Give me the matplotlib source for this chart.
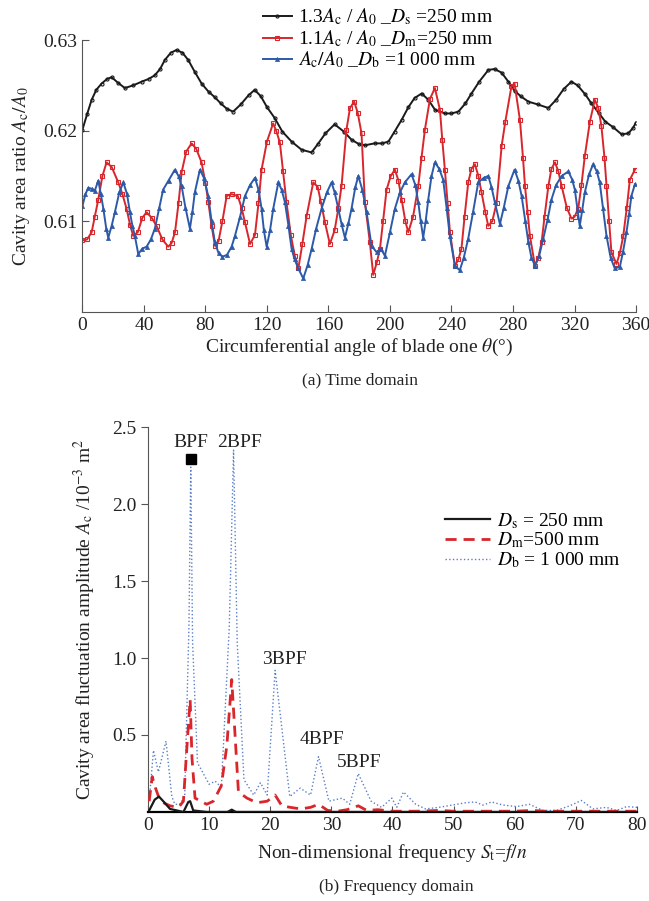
import numpy as np
import matplotlib
matplotlib.use("Agg")
import matplotlib.pyplot as plt

plt.rcParams['font.family'] = ['Liberation Serif', 'DejaVu Serif']
plt.rcParams['mathtext.fontset'] = 'stix'

# ---- (a) time domain: values ----
theta_s = [0, 3, 6, 9, 12.5, 16, 19, 23, 27.6, 33, 38.5, 43, 47, 50.5, 53.6, 57.5, 61.2, 65, 68.8,
           73, 77.5, 82, 86, 90, 94, 98, 103, 108, 112, 116, 120, 125, 130, 136, 142.5, 149, 153,
           158, 164, 170, 175, 180, 184, 190, 195, 199, 203, 207.6, 212, 216, 220.6, 225, 229.3,
           235.8, 240, 244.5, 249, 253, 258, 264, 268, 272.6, 277, 281, 285, 290, 296, 303, 308,
           313, 318, 322, 327, 331, 336, 340, 345, 350.6, 355, 358, 360]
ratio_s = [0.6201, 0.6218, 0.6234, 0.6245, 0.6252, 0.6257, 0.6259, 0.6253, 0.6247, 0.6250, 0.6254,
           0.6257, 0.6261, 0.6268, 0.6278, 0.6286, 0.6289, 0.6286, 0.6278, 0.6265, 0.6252, 0.6243,
           0.6237, 0.6230, 0.6224, 0.6221, 0.6229, 0.6239, 0.6245, 0.6238, 0.6226, 0.6214, 0.6199,
           0.6188, 0.6179, 0.6176, 0.6185, 0.6197, 0.6207, 0.6199, 0.6190, 0.6185, 0.6184, 0.6186,
           0.6186, 0.6188, 0.6199, 0.6212, 0.6226, 0.6236, 0.6241, 0.6234, 0.6223, 0.6219, 0.6219,
           0.6221, 0.6230, 0.6241, 0.6254, 0.6267, 0.6268, 0.6264, 0.6254, 0.6244, 0.6238, 0.6232,
           0.6229, 0.6225, 0.6234, 0.6246, 0.6254, 0.6250, 0.6240, 0.6230, 0.6219, 0.6210, 0.6204,
           0.6196, 0.6197, 0.6203, 0.6209]

theta_m = [0, 3, 6, 8, 10.3, 13, 15.7, 19, 23.3, 26, 28.7, 31, 33, 36, 39, 41.7, 45, 48.2, 52, 55.8,
           58, 60.2, 62.5, 64.5, 67.5, 71, 74, 77.5, 80, 81.9, 84, 86.2, 88.5, 91, 93.8, 97, 101,
           103.5, 105.7, 109, 112.2, 114.5, 116.5, 120, 124, 126, 128.4, 130.5, 132.7, 135.5, 138.1,
           140.4, 143, 145.8, 150.1, 153, 155, 157.7, 160.9, 164, 166.5, 168.5, 171.7, 174, 176.7,
           179, 181.5, 183.7, 186.9, 189.1, 191.5, 193.5, 195.5, 197.8, 200.5, 203.2, 205.5, 207.6,
           210, 211.9, 215, 218.4, 220.5, 222.7, 226, 229.2, 232.5, 234, 235.7, 237.5, 239, 242.2,
           244.5, 246.5, 248.5, 250.9, 253, 255.2, 257.5, 259.5, 262, 263.9, 266.5, 269.3, 272.6,
           275, 279, 281, 284.5, 286.5, 287.8, 289.5, 291, 294.3, 296.5, 298.6, 300.5, 303, 305,
           307.3, 309.5, 311.6, 315, 318, 320, 322.4, 324.5, 326.7, 330, 333.2, 335.5, 337.5, 339.5,
           340.8, 342.5, 344, 347.3, 349.5, 351.7, 354, 356, 359.3]
ratio_m = [0.6079, 0.6080, 0.6088, 0.6105, 0.6124, 0.6150, 0.6165, 0.6160, 0.6143, 0.6130, 0.6114,
           0.6096, 0.6084, 0.6088, 0.6104, 0.6110, 0.6104, 0.6095, 0.6080, 0.6072, 0.6076, 0.6088,
           0.6120, 0.6154, 0.6177, 0.6186, 0.6180, 0.6165, 0.6142, 0.6121, 0.6095, 0.6073, 0.6078,
           0.6100, 0.6128, 0.6130, 0.6128, 0.6115, 0.6099, 0.6075, 0.6085, 0.6120, 0.6157, 0.6188,
           0.6208, 0.6200, 0.6187, 0.6155, 0.6121, 0.6085, 0.6062, 0.6048, 0.6075, 0.6106, 0.6143,
           0.6138, 0.6122, 0.6099, 0.6075, 0.6090, 0.6115, 0.6139, 0.6201, 0.6225, 0.6232, 0.6220,
           0.6197, 0.6121, 0.6077, 0.6041, 0.6055, 0.6070, 0.6100, 0.6135, 0.6150, 0.6157, 0.6145,
           0.6124, 0.6100, 0.6088, 0.6105, 0.6139, 0.6170, 0.6201, 0.6235, 0.6247, 0.6223, 0.6190,
           0.6157, 0.6120, 0.6088, 0.6051, 0.6058, 0.6070, 0.6105, 0.6143, 0.6158, 0.6163, 0.6150,
           0.6132, 0.6110, 0.6095, 0.6100, 0.6120, 0.6183, 0.6210, 0.6249, 0.6252, 0.6212, 0.6170,
           0.6139, 0.6110, 0.6084, 0.6051, 0.6060, 0.6077, 0.6105, 0.6139, 0.6158, 0.6165, 0.6155,
           0.6139, 0.6115, 0.6103, 0.6105, 0.6114, 0.6140, 0.6172, 0.6210, 0.6234, 0.6225, 0.6205,
           0.6170, 0.6139, 0.6100, 0.6066, 0.6053, 0.6065, 0.6084, 0.6115, 0.6146, 0.6157]

theta_b = [0, 2, 3.8, 6, 8.1, 10.3, 12, 13.6, 15.5, 16.8, 19, 21.1, 24, 26.6, 29, 30.9, 32.5, 34.1,
           36.3, 39, 41.7, 44.5, 47.1, 50, 52.5, 56, 60.1, 62.5, 64.5, 67, 69.9, 71.5, 73.1, 76.4,
           79, 81.8, 84, 86.1, 88.5, 91, 94, 97, 99.2, 102.5, 105.7, 109, 112.2, 114.5, 116.5, 118,
           119.8, 122, 124.1, 127.4, 129.5, 131.7, 134, 136, 138, 140.4, 143.6, 146.5, 149.1, 152,
           155.5, 159, 162, 164, 166.4, 168.5, 170.7, 173, 175, 177.5, 179.4, 182, 184.8, 188, 191.3,
           194, 196.7, 200, 203.2, 206.5, 209.7, 214, 216.5, 218.4, 220, 221.6, 223.2, 224.9, 227,
           229.2, 232, 234.6, 236.8, 238.9, 242.2, 245.4, 248, 250.9, 254, 257.4, 261, 263.9, 266,
           268.2, 271.5, 274, 277, 281, 283.5, 285.6, 288, 290, 292, 294.3, 297, 299.7, 302.5, 305,
           308, 311.6, 316, 318.5, 320.2, 322, 323.4, 325, 326.7, 329.5, 332.1, 334.5, 336.4, 338.5,
           340.8, 343.5, 346.2, 349.5, 351.5, 353.8, 355.5, 357, 359.3]
ratio_b = [0.6117, 0.6130, 0.6137, 0.6136, 0.6134, 0.6145, 0.6130, 0.6114, 0.6092, 0.6082, 0.6095,
           0.6110, 0.6132, 0.6143, 0.6130, 0.6110, 0.6095, 0.6084, 0.6064, 0.6070, 0.6072, 0.6080,
           0.6092, 0.6115, 0.6135, 0.6145, 0.6157, 0.6150, 0.6139, 0.6115, 0.6092, 0.6110, 0.6132,
           0.6157, 0.6148, 0.6128, 0.6100, 0.6077, 0.6065, 0.6061, 0.6063, 0.6072, 0.6084, 0.6105,
           0.6128, 0.6140, 0.6148, 0.6135, 0.6114, 0.6090, 0.6072, 0.6090, 0.6114, 0.6143, 0.6135,
           0.6121, 0.6095, 0.6070, 0.6058, 0.6048, 0.6037, 0.6052, 0.6070, 0.6092, 0.6114, 0.6132,
           0.6143, 0.6132, 0.6114, 0.6097, 0.6082, 0.6098, 0.6114, 0.6138, 0.6150, 0.6135, 0.6110,
           0.6073, 0.6066, 0.6070, 0.6062, 0.6088, 0.6114, 0.6132, 0.6143, 0.6152, 0.6140, 0.6121,
           0.6100, 0.6082, 0.6100, 0.6124, 0.6150, 0.6165, 0.6158, 0.6146, 0.6115, 0.6084, 0.6051,
           0.6046, 0.6060, 0.6081, 0.6110, 0.6143, 0.6148, 0.6150, 0.6138, 0.6121, 0.6097, 0.6115,
           0.6139, 0.6157, 0.6145, 0.6128, 0.6100, 0.6077, 0.6060, 0.6051, 0.6062, 0.6081, 0.6102,
           0.6124, 0.6140, 0.6150, 0.6155, 0.6146, 0.6135, 0.6112, 0.6095, 0.6112, 0.6132, 0.6152,
           0.6163, 0.6155, 0.6143, 0.6115, 0.6084, 0.6060, 0.6048, 0.6050, 0.6066, 0.6088, 0.6108,
           0.6128, 0.6141]

# ---- (b) frequency domain ----
freq_s = [0.2, 1.1, 1.8, 2.5, 3.6, 4.7, 5.8, 6.6, 6.9, 7.4, 9.6, 13.0, 13.7, 14.4, 20, 30, 40, 50, 60, 70, 80]
amp_s = [0.01, 0.08, 0.10, 0.07, 0.02, 0.01, 0.0, 0.065, 0.07, 0.01, 0.0, 0.0, 0.015, 0.0, 0.0, 0.0, 0.0, 0.0, 0.0, 0.0, 0.0]

freq_m = [0.2, 0.7, 1.1, 2.0, 3.6, 5.0, 5.8, 6.3, 6.9, 7.2, 7.7, 9.6, 10.7, 12.0, 12.9, 13.7, 14.2,
          14.8, 16.2, 17.8, 19.5, 20.8, 21.9, 23.3, 25.0, 26.6, 27.9, 29.4, 31.0, 32.6, 34.4, 35.8,
          37.6, 39.9, 44, 47.6, 50, 55, 60, 62.9, 65, 70, 75, 80]
amp_m = [0.07, 0.23, 0.17, 0.07, 0.04, 0.03, 0.07, 0.38, 0.73, 0.35, 0.09, 0.05, 0.07, 0.17, 0.43,
         0.86, 0.53, 0.13, 0.09, 0.06, 0.07, 0.11, 0.04, 0.03, 0.02, 0.03, 0.05, 0.01, 0.005, 0.015,
         0.04, 0.01, 0.015, 0.005, 0.005, 0.01, 0.005, 0.005, 0.005, 0.01, 0.005, 0.005, 0.005, 0.005]

freq_b = [0.3, 0.9, 1.7, 2.95, 3.9, 4.4, 5.2, 6.0, 6.7, 7.0, 7.3, 8.1, 10.0, 11.0, 12.0, 13.3, 14.0,
          14.6, 15.7, 17.3, 18.4, 19.5, 20.8, 23.2, 24.9, 26.6, 27.9, 29.6, 30.7, 31.8, 33.0, 34.4,
          36.5, 38.2, 39.9, 40.7, 41.8, 43.8, 45.4, 47.6, 49.8, 52.0, 53.5, 54.8, 56.2, 58.1, 60.3,
          62.4, 64.6, 66.8, 69.0, 70.9, 72.8, 75.0, 76.7, 78.3, 80.0]
amp_b = [0.12, 0.40, 0.26, 0.46, 0.10, 0.05, 0.05, 0.10, 1.20, 2.24, 1.10, 0.32, 0.18, 0.20, 0.16,
         1.20, 2.35, 1.10, 0.21, 0.11, 0.19, 0.11, 0.92, 0.10, 0.155, 0.11, 0.36, 0.07, 0.08, 0.09,
         0.05, 0.25, 0.07, 0.03, 0.09, 0.03, 0.13, 0.05, 0.02, 0.03, 0.045, 0.06, 0.065, 0.045, 0.065,
         0.045, 0.035, 0.05, 0.01, 0.01, 0.04, 0.075, 0.02, 0.03, 0.01, 0.035, 0.03]

harm_labels = ['BPF', '2BPF', '3BPF', '4BPF', '5BPF']
harm_x = [7.0, 15.0, 22.3, 28.5, 34.5]
harm_y = [2.40, 2.40, 0.99, 0.47, 0.32]

black = '#1a1a1a'
red = '#d8262c'
blue = '#2d5aa8'
txt = '#222222'

fig = plt.figure(figsize=(6.49, 9.01), dpi=100)
fs = 14

# ---------- (a) ----------
ax1 = fig.add_axes([0.127, 0.6537, 0.853, 0.3019])
ax1.plot(theta_s, ratio_s, color=black, lw=1.4, marker='o', ms=2.2, mfc='none', mew=0.8,
         label=r'1.3$A_{\rm c}$ / $A_0$ _$D_{\rm s}$ =250 mm')
ax1.plot(theta_m, ratio_m, color=red, lw=1.4, marker='s', ms=2.6, mfc='none', mew=0.8,
         label=r'1.1$A_{\rm c}$ / $A_0$ _$D_{\rm m}$=250 mm')
ax1.plot(theta_b, ratio_b, color=blue, lw=1.4, marker='^', ms=3.0, mew=0.5,
         label=r'$A_{\rm c}/A_0$ _$D_{\rm b}$ =1 000 mm')
ax1.set_xlim(0, 360)
ax1.set_ylim(0.600, 0.630)
ax1.set_xticks(range(0, 361, 40))
ax1.set_yticks([0.61, 0.62, 0.63])
ax1.set_yticklabels(['0.61', '0.62', '0.63'])
ax1.spines['top'].set_visible(False)
ax1.spines['right'].set_visible(False)
for sp in ['left', 'bottom']:
    ax1.spines[sp].set_color('#555555')
ax1.tick_params(direction='in', labelsize=fs, colors='#555555', labelcolor=txt, length=5)
ax1.set_xlabel(r'Circumferential angle of blade one $\theta$(°)', fontsize=fs, color=txt, labelpad=2)
ax1.set_ylabel(r'Cavity area ratio $A_{\rm c}/A_0$', fontsize=fs, color=txt, labelpad=8)
ax1.legend(loc='upper left', bbox_to_anchor=(0.384, 1.008), bbox_transform=fig.transFigure,
           frameon=False, fontsize=fs, handlelength=1.5, handletextpad=0.3, labelspacing=0.05,
           borderpad=0.2, handleheight=0.6)
fig.text(0.555, 1 - 380 / 901, '(a) Time domain', ha='center', va='center', fontsize=12.5, color=txt)

# ---------- (b) ----------
ax2 = fig.add_axes([0.228, 0.0988, 0.7535, 0.4272])
ax2.plot(freq_b, amp_b, color='#5a7fc8', lw=1.0, ls=':', label=r'$D_{\rm b}$ = 1 000 mm', zorder=2)
ax2.plot(freq_m, amp_m, color=red, lw=2.0, ls=(0, (4, 2.5)), label=r'$D_{\rm m}$=500 mm', zorder=3)
ax2.plot(freq_s, amp_s, color=black, lw=1.6, label=r'$D_{\rm s}$ = 250 mm', zorder=4)
ax2.plot([7.0], [2.29], marker='s', color='black', ms=7, ls='none')
for lab, hx, hy in zip(harm_labels, harm_x, harm_y):
    ax2.text(hx, hy, lab, ha='center', va='center', fontsize=fs, color=txt)
ax2.set_xlim(0, 80)
ax2.set_ylim(0, 2.5)
ax2.set_xticks(range(0, 81, 10))
ax2.set_yticks([0.5, 1.0, 1.5, 2.0, 2.5])
ax2.spines['top'].set_visible(False)
ax2.spines['right'].set_visible(False)
ax2.spines['left'].set_color('#555555')
ax2.spines['bottom'].set_linewidth(1.6)
ax2.tick_params(axis='y', direction='out', labelsize=fs, colors='#555555', labelcolor=txt, length=5)
ax2.tick_params(axis='x', direction='in', labelsize=fs, colors='#555555', labelcolor=txt, length=4)
ax2.set_xlabel(r'Non-dimensional frequency $S_{\rm t}$=$f/n$', fontsize=fs, color=txt, labelpad=6)
ax2.set_ylabel(r'Cavity area fluctuation amplitude $A_{\rm c}$ /10$^{-3}$ m$^2$', fontsize=fs,
               color=txt, labelpad=10)
h, l = ax2.get_legend_handles_labels()
ax2.legend([h[2], h[1], h[0]], [l[2], l[1], l[0]], loc='upper left', bbox_to_anchor=(0.665, 0.448),
           bbox_transform=fig.transFigure, frameon=False, fontsize=fs, handlelength=2.3,
           handletextpad=0.35, labelspacing=0.0, borderpad=0.2)
fig.text(0.61, 1 - 887 / 901, '(b) Frequency domain', ha='center', va='center', fontsize=12.5, color=txt)

fig.savefig('out.png', dpi=100)
